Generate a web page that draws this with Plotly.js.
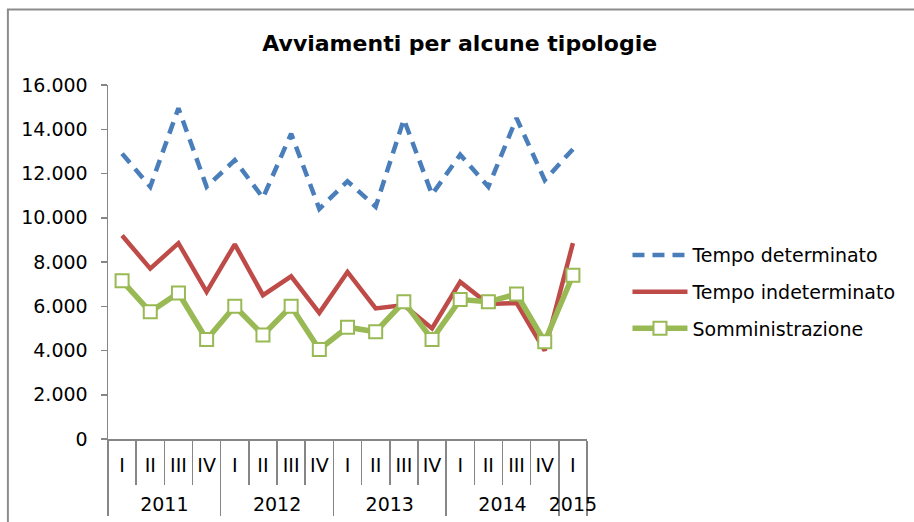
<!DOCTYPE html>
<html>
<head>
<meta charset="utf-8">
<script src="https://cdn.plot.ly/plotly-3.0.1.min.js"></script>
<style>
  body { margin: 0; background: #fff; }
  #chart { width: 914px; height: 522px; }
</style>
</head>
<body>
<div id="chart"></div>
<script>
// anni e trimestri (asse a due livelli)
const anni = ["2011", "2011", "2011", "2011", "2012", "2012", "2012", "2012",
  "2013", "2013", "2013", "2013", "2014", "2014", "2014", "2014", "2015"];
const trimestri = ["I", "II", "III", "IV", "I", "II", "III", "IV",
  "I", "II", "III", "IV", "I", "II", "III", "IV", "I"];

const tempoDeterminato = [12900, 11400, 14950, 11400, 12600, 10900, 13800, 10400,
  11650, 10500, 14450, 11050, 12850, 11400, 14500, 11700, 13100];
const tempoIndeterminato = [9200, 7700, 8850, 6650, 8800, 6500, 7350, 5700,
  7550, 5900, 6050, 5000, 7100, 6100, 6150, 4000, 8850];
const somministrazione = [7150, 5750, 6600, 4500, 6000, 4700, 6000, 4050,
  5050, 4850, 6200, 4500, 6300, 6200, 6550, 4400, 7400];

// riga vuota sotto i trimestri per distanziare la riga degli anni
const etichetteTrim = trimestri.map((t) => t + "<br><span style='font-size:12px'> </span>");
const xCat = [anni, etichetteTrim];
const font = "Verdana, 'DejaVu Sans', sans-serif";

const traces = [
  {
    x: xCat, y: tempoDeterminato, name: "Tempo determinato",
    mode: "lines", legendgroup: "a",
    line: { color: "#4A7EBB", width: 4.5, dash: "12px,8px" },
  },
  {
    x: xCat, y: tempoIndeterminato, name: "Tempo indeterminato",
    mode: "lines", legendgroup: "b",
    line: { color: "#BE4B48", width: 4.5 },
  },
  {
    x: xCat, y: somministrazione, name: "Somministrazione",
    mode: "lines+markers", legendgroup: "c",
    line: { color: "#98B954", width: 5.5 },
    marker: { symbol: "square", size: 13, color: "#fff", line: { color: "#98B954", width: 2 } },
  },
];

const layout = {
  width: 914, height: 522,
  margin: { l: 108, r: 324, t: 85, b: 83 },
  paper_bgcolor: "#fff", plot_bgcolor: "#fff",
  separators: ",.",
  font: { family: font, size: 19, color: "#000" },
  title: {
    text: "<b>Avviamenti per alcune tipologie</b>",
    font: { family: font, size: 22, color: "#000" },
    x: 0.503, xref: "container", xanchor: "center", y: 0.918, yanchor: "middle",
  },
  showlegend: true,
  legend: {
    x: 1.0845, y: 0.415, yanchor: "middle", xanchor: "left",
    font: { family: font, size: 19 },
    tracegroupgap: 9, itemwidth: 55,
  },
  xaxis: {
    type: "multicategory",
    range: [-0.5, trimestri.length - 0.5],
    showline: true, linecolor: "#868686", linewidth: 1.5,
    ticks: "outside", ticklen: 44, tickcolor: "#868686", tickwidth: 1.5,
    tickangle: 0, ticklabelstandoff: 9,
    showdividers: true, dividercolor: "#868686", dividerwidth: 1.5,
    showgrid: false, zeroline: false,
    tickfont: { family: font, size: 19 },
  },
  yaxis: {
    range: [0, 16000], dtick: 2000, tickformat: ",d",
    showline: true, linecolor: "#868686", linewidth: 1.5,
    ticks: "outside", ticklen: 6, tickcolor: "#868686", tickwidth: 1.5,
    ticklabelstandoff: 9,
    showgrid: false, zeroline: false,
    tickfont: { family: font, size: 19 },
  },
  shapes: [
    // cornice dell'area grafico
    { type: "rect", xref: "paper", yref: "paper", x0: -0.209, x1: 1.75, y0: -0.4, y1: 1.213,
      line: { color: "#8C8C8C", width: 2 }, fillcolor: "rgba(0,0,0,0)" },
  ],
};

Plotly.newPlot("chart", traces, layout, { displayModeBar: false, staticPlot: true });
</script>
</body>
</html>
